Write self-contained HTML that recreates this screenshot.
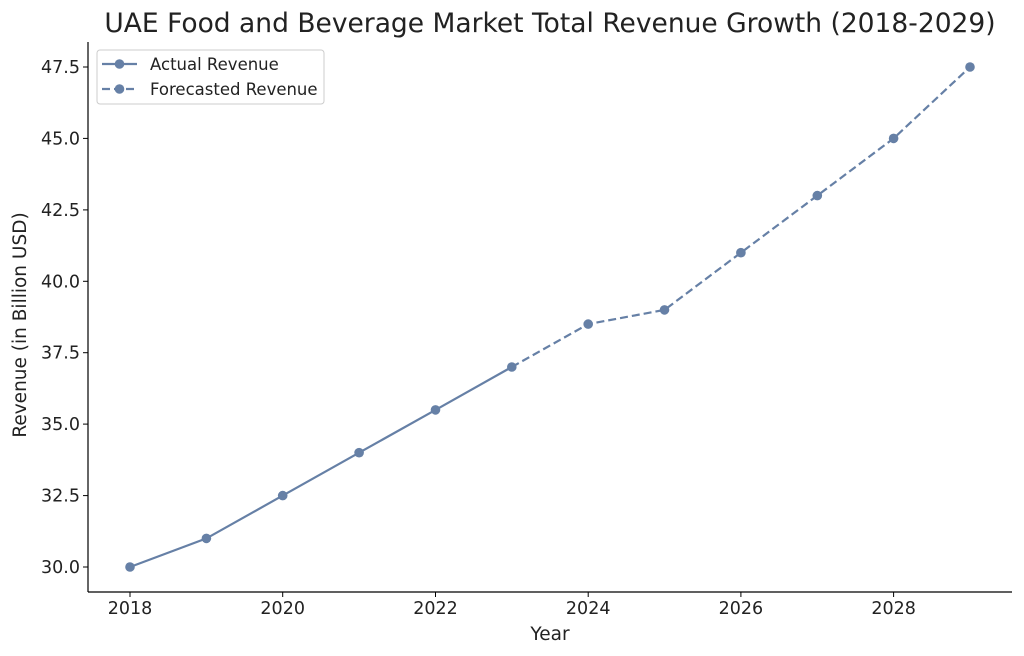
<!DOCTYPE html>
<html><head><meta charset="utf-8"><style>body{margin:0;background:#fff}svg{display:block}text{font-family:"DejaVu Sans","Liberation Sans",sans-serif;fill:#222}</style></head>
<body>
<svg width="1024" height="656" viewBox="0 0 1024 656">
<text x="550" y="32" font-size="26.5" text-anchor="middle" fill="#333">UAE Food and Beverage Market Total Revenue Growth (2018-2029)</text>
<g stroke="#000" stroke-width="1.2">
<line x1="88" y1="42" x2="88" y2="592"/>
<line x1="88" y1="592" x2="1012" y2="592"/>
</g>
<g stroke="#000" stroke-width="1">
<line x1="83" y1="567" x2="88" y2="567"/><line x1="83" y1="495.6" x2="88" y2="495.6"/><line x1="83" y1="424.1" x2="88" y2="424.1"/><line x1="83" y1="352.7" x2="88" y2="352.7"/><line x1="83" y1="281.3" x2="88" y2="281.3"/><line x1="83" y1="209.9" x2="88" y2="209.9"/><line x1="83" y1="138.4" x2="88" y2="138.4"/><line x1="83" y1="67" x2="88" y2="67"/>
<line x1="130" y1="592" x2="130" y2="597"/><line x1="282.7" y1="592" x2="282.7" y2="597"/><line x1="435.5" y1="592" x2="435.5" y2="597"/><line x1="588.2" y1="592" x2="588.2" y2="597"/><line x1="740.9" y1="592" x2="740.9" y2="597"/><line x1="893.6" y1="592" x2="893.6" y2="597"/>
</g>
<g font-size="17.5" text-anchor="end">
<text x="80" y="573">30.0</text><text x="80" y="501.6">32.5</text><text x="80" y="430.1">35.0</text><text x="80" y="358.7">37.5</text><text x="80" y="287.3">40.0</text><text x="80" y="215.9">42.5</text><text x="80" y="144.4">45.0</text><text x="80" y="73">47.5</text>
</g>
<g font-size="17.5" text-anchor="middle">
<text x="130" y="614">2018</text><text x="282.7" y="614">2020</text><text x="435.5" y="614">2022</text><text x="588.2" y="614">2024</text><text x="740.9" y="614">2026</text><text x="893.6" y="614">2028</text>
</g>
<text x="550" y="640" font-size="18.5" text-anchor="middle">Year</text>
<text transform="translate(26,325) rotate(-90)" font-size="18.5" text-anchor="middle">Revenue (in Billion USD)</text>
<g stroke="#6680a6" stroke-width="2.2" fill="none">
<polyline points="130,567 206.4,538.4 282.7,495.6 359.1,452.7 435.5,409.9 511.8,367"/>
<polyline stroke-dasharray="8,4" points="511.8,367 588.2,324.1 664.5,309.9 740.9,252.7 817.3,195.6 893.6,138.4 970,67"/>
</g>
<g fill="#6680a6">
<circle cx="130" cy="567" r="4.8"/><circle cx="206.4" cy="538.4" r="4.8"/><circle cx="282.7" cy="495.6" r="4.8"/><circle cx="359.1" cy="452.7" r="4.8"/><circle cx="435.5" cy="409.9" r="4.8"/><circle cx="511.8" cy="367" r="4.8"/><circle cx="588.2" cy="324.1" r="4.8"/><circle cx="664.5" cy="309.9" r="4.8"/><circle cx="740.9" cy="252.7" r="4.8"/><circle cx="817.3" cy="195.6" r="4.8"/><circle cx="893.6" cy="138.4" r="4.8"/><circle cx="970" cy="67" r="4.8"/>
</g>
<rect x="97" y="50" width="227" height="54" rx="3" fill="#fff" stroke="#ccc" stroke-width="1"/>
<line x1="102" y1="64" x2="137" y2="64" stroke="#6680a6" stroke-width="2.2"/><circle cx="119.5" cy="64" r="4.8" fill="#6680a6"/>
<line x1="102" y1="89" x2="137" y2="89" stroke="#6680a6" stroke-width="2.2" stroke-dasharray="8,4"/><circle cx="119.5" cy="89" r="4.8" fill="#6680a6"/>
<text x="150" y="70" font-size="16.5" fill="#333">Actual Revenue</text>
<text x="150" y="95" font-size="16.5" fill="#333">Forecasted Revenue</text>
</svg>
</body></html>
